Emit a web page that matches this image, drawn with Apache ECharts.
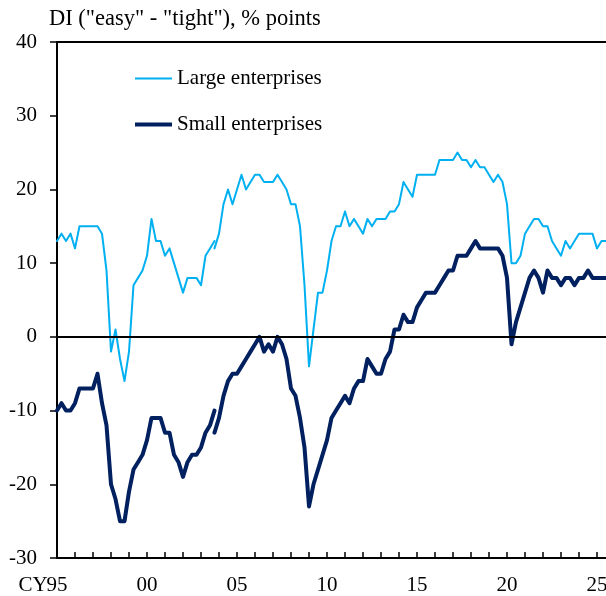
<!DOCTYPE html>
<html>
<head>
<meta charset="utf-8">
<script src="https://cdn.jsdelivr.net/npm/echarts@6/dist/echarts.min.js"></script>
<style>
html,body{margin:0;padding:0;background:#fff;}
#chart{width:606px;height:596px;}
</style>
</head>
<body>
<div id="chart"></div>
<script>
// Quarterly observations, 1995 Q1 .. 2025 Q3
const firstYear = 1995;
const lastYear = 2025;
const lastQuarter = 3;

// x-axis tick labels (one per 5 years)
const tickLabels = ['CY95', '00', '05', '10', '15', '20', '25'];

// Large enterprises: old survey basis 1995Q1..2003Q4
const largeOld = [13, 14, 13, 14, 12, 15, 15, 15, 15, 15, 14, 9, -2, 1, -3, -6, -2, 7, 8, 9,
  11, 16, 13, 13, 11, 12, 10, 8, 6, 8, 8, 8, 7, 11, 12, 13];
// Large enterprises: new survey basis 2003Q4..2025Q3
const largeNew = [12, 14, 18, 20, 18, 20, 22, 20, 21, 22, 22, 21, 21, 21, 22, 21, 20, 18, 18, 15,
  7, -4, 1, 6, 6, 9, 13, 15, 15, 17, 15, 16, 15, 14, 16, 15, 16, 16, 16, 17,
  17, 18, 21, 20, 19, 22, 22, 22, 22, 22, 24, 24, 24, 24, 25, 24, 24, 23, 24, 23,
  23, 22, 21, 22, 21, 18, 10, 10, 11, 14, 15, 16, 16, 15, 15, 13, 12, 11, 13, 12,
  13, 14, 14, 14, 14, 12, 13, 13];

// Small enterprises: old survey basis 1995Q1..2003Q4
const smallOld = [-10, -9, -10, -10, -9, -7, -7, -7, -7, -5, -9, -12, -20, -22, -25, -25, -21, -18, -17, -16,
  -14, -11, -11, -11, -13, -13, -16, -17, -19, -17, -16, -16, -15, -13, -12, -10];
// Small enterprises: new survey basis 2003Q4..2025Q3
const smallNew = [-13, -11, -8, -6, -5, -5, -4, -3, -2, -1, 0, -2, -1, -2, 0, -1, -3, -7, -8, -11,
  -15, -23, -20, -18, -16, -14, -11, -10, -9, -8, -9, -7, -6, -6, -3, -4, -5, -5, -3, -2,
  1, 1, 3, 2, 2, 4, 5, 6, 6, 6, 7, 8, 9, 9, 11, 11, 11, 12, 13, 12,
  12, 12, 12, 12, 11, 8, -1, 2, 4, 6, 8, 9, 8, 6, 9, 8, 8, 7, 8, 8,
  7, 8, 8, 9, 8, 8, 8, 8];

const seriesNames = ['Large enterprises', 'Small enterprises'];

// category list of quarters
const quarters = [];
for (let y = firstYear; y <= lastYear; y++) {
  for (let q = 1; q <= 4; q++) {
    if (y === lastYear && q > lastQuarter) break;
    quarters.push(y + 'Q' + q);
  }
}
const n = quarters.length;
const padOld = a => a.concat(new Array(n - a.length).fill(null));
const padNew = a => new Array(n - a.length).fill(null).concat(a);

const FONT = 'Liberation Serif';
const LIGHT = '#00B0F0';
const DARK = '#00205F';

const chart = echarts.init(document.getElementById('chart'), null, {renderer: 'canvas'});
chart.setOption({
  animation: false,
  backgroundColor: '#ffffff',
  title: {
    text: 'DI ("easy" - "tight"), % points',
    left: 49, top: 8, padding: 0,
    textStyle: {fontFamily: FONT, fontSize: 22.5, fontWeight: 'normal', color: '#000'}
  },
  grid: {left: 57, right: 0, top: 42, bottom: 38, containLabel: false, outerBoundsMode: 'none'},
  legend: [
    {
      data: [{name: seriesNames[0], icon: 'rect'}], left: 135, top: 68, itemWidth: 37, itemHeight: 2,
      padding: 0, selectedMode: false,
      textStyle: {fontFamily: FONT, fontSize: 21, color: '#000'}
    },
    {
      data: [{name: seriesNames[1], icon: 'rect'}], left: 135, top: 114, itemWidth: 37, itemHeight: 4,
      padding: 0, selectedMode: false,
      textStyle: {fontFamily: FONT, fontSize: 21, color: '#000'}
    }
  ],
  xAxis: [
    {
      type: 'category', data: quarters, boundaryGap: false, position: 'bottom',
      axisLine: {onZero: false, lineStyle: {color: '#000', width: 2}},
      axisTick: {inside: true, length: 6, interval: 3, lineStyle: {color: '#000', width: 1.5}},
      axisLabel: {
        interval: 19, margin: 17, color: '#000', fontFamily: FONT, fontSize: 21,
        formatter: function (v, i) {
          const s = tickLabels[Math.round(i / 20)];
          if (i === 0) return '{c|CY}' + s.slice(2) + '{p|}';
          return s;
        },
        rich: {
          c: {fontFamily: FONT, fontSize: 21, color: '#000', width: 27},
          p: {width: 27}
        }
      },
      splitLine: {show: false}
    },
    {
      type: 'category', data: quarters, boundaryGap: false, position: 'top',
      axisLine: {onZero: false, lineStyle: {color: '#000', width: 2}},
      axisTick: {show: false}, axisLabel: {show: false}, splitLine: {show: false}
    }
  ],
  yAxis: {
    type: 'value', min: -30, max: 40, interval: 10,
    axisLine: {show: true, lineStyle: {color: '#000', width: 2}},
    axisTick: {show: true, inside: false, length: 7, lineStyle: {color: '#000', width: 1.5}},
    axisLabel: {margin: 20, color: '#000', fontFamily: FONT, fontSize: 21},
    splitLine: {show: false}
  },
  series: [
    {
      name: 'zero', type: 'line', data: [], z: 1, silent: true,
      markLine: {
        silent: true, symbol: 'none', label: {show: false},
        lineStyle: {color: '#000', width: 2, type: 'solid'},
        data: [{yAxis: 0}]
      }
    },
    {
      name: seriesNames[0], type: 'line', data: padOld(largeOld), symbol: 'none', z: 3,
      itemStyle: {color: LIGHT},
      lineStyle: {color: LIGHT, width: 2, join: 'round', cap: 'round'}
    },
    {
      name: seriesNames[0], type: 'line', data: padNew(largeNew), symbol: 'none', z: 3,
      itemStyle: {color: LIGHT},
      lineStyle: {color: LIGHT, width: 2, join: 'round', cap: 'round'}
    },
    {
      name: seriesNames[1], type: 'line', data: padOld(smallOld), symbol: 'none', z: 4,
      itemStyle: {color: DARK},
      lineStyle: {color: DARK, width: 4, join: 'round', cap: 'round'}
    },
    {
      name: seriesNames[1], type: 'line', data: padNew(smallNew), symbol: 'none', z: 4,
      itemStyle: {color: DARK},
      lineStyle: {color: DARK, width: 4, join: 'round', cap: 'round'}
    }
  ]
});
</script>
</body>
</html>
